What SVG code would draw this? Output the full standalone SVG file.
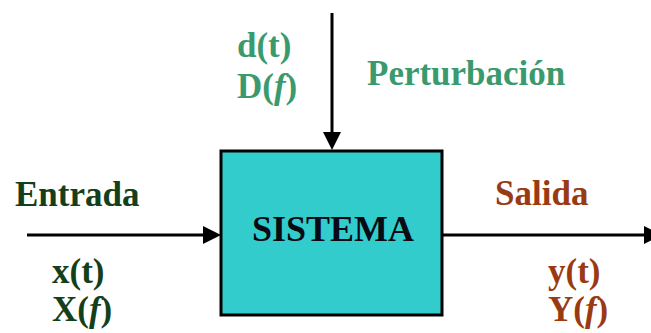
<svg xmlns="http://www.w3.org/2000/svg" width="651" height="333" viewBox="0 0 651 333">
<style>
.t{font-family:'Liberation Serif','Times New Roman',serif;font-weight:700;font-size:35px}
.in{fill:#13401a}
.out{fill:#9a3a12}
.dist{fill:#3a9a6e}
.sys{fill:#0a0a14;font-size:36px}
.ln{stroke:#000;stroke-width:3;fill:none}
.ah{fill:#000}
</style>
<rect width="651" height="333" fill="#fff"/>
<g id="connectors">
<line class="ln" x1="27" y1="235" x2="205" y2="235"/>
<polygon class="ah" points="203,226 221,235 203,244"/>
<line class="ln" x1="332" y1="13" x2="332" y2="134"/>
<polygon class="ah" points="323,132 332,150 341,132"/>
<line class="ln" x1="442" y1="235" x2="646" y2="235"/>
<polygon class="ah" points="644,226 662,235 644,244"/>
</g>
<g id="sistema">
<rect x="221" y="151" width="221" height="164" fill="#33cccc" stroke="#000" stroke-width="3"/>
<text class="t sys" font-family="Liberation Serif" x="252" y="241">SISTEMA</text>
</g>
<g id="entrada">
<text class="t in" font-family="Liberation Serif" x="15" y="206">Entrada</text>
<text class="t in" font-family="Liberation Serif" x="52" y="283">x(t)</text>
<text class="t in" font-family="Liberation Serif" x="52" y="321">X(<tspan font-style="italic">f</tspan>)</text>
</g>
<g id="salida">
<text class="t out" font-family="Liberation Serif" x="495" y="205">Salida</text>
<text class="t out" font-family="Liberation Serif" x="548" y="283">y(t)</text>
<text class="t out" font-family="Liberation Serif" x="548" y="321">Y(<tspan font-style="italic">f</tspan>)</text>
</g>
<g id="perturbacion">
<text class="t dist" font-family="Liberation Serif" x="237" y="57">d(t)</text>
<text class="t dist" font-family="Liberation Serif" x="237" y="98">D(<tspan font-style="italic">f</tspan>)</text>
<text class="t dist" font-family="Liberation Serif" x="367" y="85">Perturbación</text>
</g>
</svg>
